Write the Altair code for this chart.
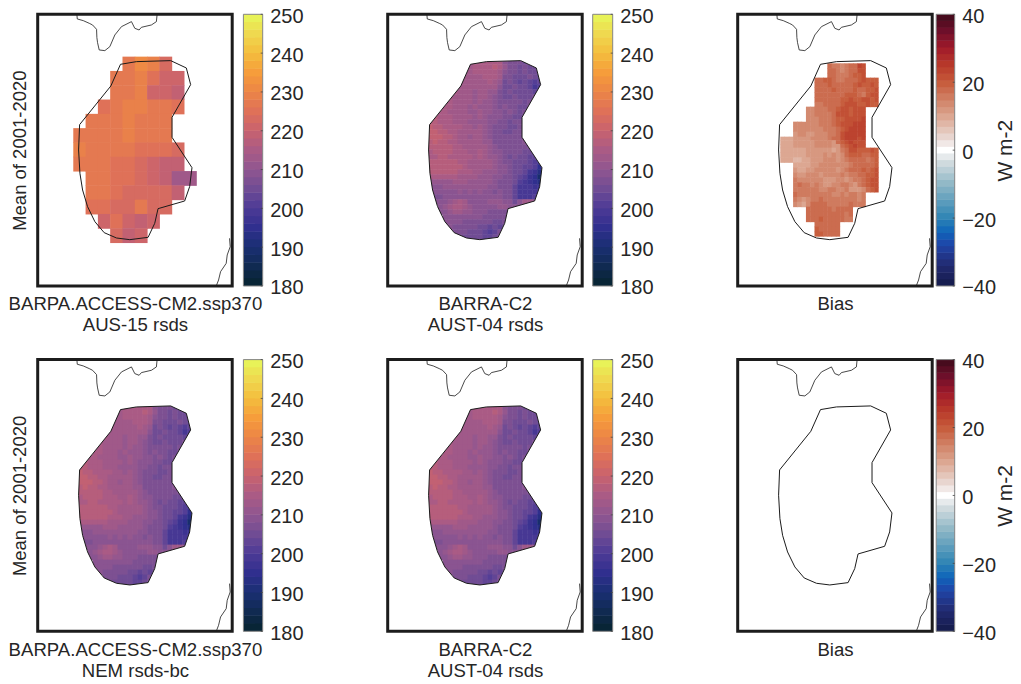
import altair as alt
import numpy as np
import pandas as pd

FONT = "Liberation Sans"
INK = "#262626"

# ---- map geometry, in map units of the panel (0-585 across, 0-815 down) ----
outline_x = [249, 297, 400, 447, 460, 404, 404, 464, 457, 442, 362, 352, 332, 277, 237, 200, 172, 150, 135, 127, 123, 126, 220, 249]
outline_y = [150, 142, 139, 161, 211, 309, 369, 460, 517, 560, 583, 627, 669, 676, 671, 655, 622, 577, 527, 477, 407, 331, 215, 150]
coast_n_x = [118, 119, 137, 155, 165, 177, 178, 180, 185, 202, 217, 232, 252, 282, 292, 305, 312, 342, 357, 359]
coast_n_y = [2, 14, 19, 27, 32, 45, 70, 85, 107, 109, 97, 62, 37, 22, 42, 47, 39, 32, 22, 2]
coast_s_x = [577, 579, 570, 567, 550, 544, 537]
coast_s_y = [672, 697, 722, 747, 772, 797, 815]

# ---- coarse model grid: (first column, values) per row ----
coarse_rows = [
    (4, [227, 230, 229, 222]),
    (3, [227, 227, 229, 224, 221, 220]),
    (3, [227, 227, 228, 220, 221, 218]),
    (2, [225, 227, 229, 228, 226, 226, 224]),
    (1, [226, 227, 227, 229, 227, 226, 226]),
    (0, [227, 226, 226, 226, 228, 226, 226, 226]),
    (0, [228, 226, 226, 226, 226, 225, 224, 224, 223]),
    (0, [227, 226, 226, 224, 224, 222, 220, 219, 219]),
    (1, [226, 226, 224, 224, 223, 220, 219, 213, 213]),
    (1, [226, 226, 224, 223, 222, 222, 222, 218]),
    (1, [225, 224, 223, 222, 226, 222, 222]),
    (2, [221, 224, 221, 219, 220]),
    (3, [223, 218, 220]),
]

# ---- fine reanalysis grid: (first column, values) per row ----
barra_rows = [
    (8, [214, 214, 215, 215, 215, 215, 214, 208, 207, 206, 206, 205]),
    (8, [213, 214, 214, 215, 215, 216, 215, 211, 206, 206, 205, 206, 205, 204]),
    (7, [212, 213, 214, 214, 215, 215, 215, 213, 208, 206, 206, 204, 206, 205, 205, 204]),
    (7, [212, 212, 213, 213, 214, 214, 214, 212, 207, 206, 205, 204, 205, 206, 204, 203]),
    (6, [212, 212, 212, 212, 213, 213, 214, 213, 210, 205, 206, 204, 203, 204, 203, 200, 202]),
    (6, [213, 212, 212, 213, 212, 213, 212, 212, 208, 205, 205, 206, 205, 204, 202, 199, 200]),
    (5, [214, 213, 212, 212, 211, 212, 212, 211, 210, 206, 205, 206, 204, 205, 204, 204, 203, 205]),
    (4, [214, 213, 213, 212, 212, 211, 212, 212, 210, 209, 206, 205, 205, 206, 205, 204, 205, 206]),
    (3, [215, 214, 213, 213, 212, 212, 211, 212, 211, 210, 208, 206, 206, 207, 206, 206, 205, 206, 208]),
    (3, [214, 214, 213, 212, 212, 211, 212, 211, 210, 211, 208, 207, 208, 207, 206, 205, 205, 206]),
    (2, [215, 214, 213, 213, 212, 212, 211, 211, 212, 210, 210, 209, 208, 207, 208, 206, 205, 206]),
    (1, [216, 215, 214, 214, 213, 213, 212, 212, 211, 212, 211, 209, 209, 208, 207, 206, 205, 205, 207]),
    (0, [217, 216, 215, 214, 214, 213, 212, 212, 211, 211, 211, 210, 208, 208, 206, 206, 205, 206, 207]),
    (0, [218, 217, 217, 215, 214, 214, 214, 212, 212, 211, 212, 210, 208, 207, 206, 206, 205, 205, 206]),
    (0, [218, 218, 217, 216, 215, 214, 213, 212, 213, 213, 212, 210, 208, 207, 206, 205, 205, 206, 207]),
    (0, [218, 218, 218, 216, 216, 214, 213, 212, 211, 212, 212, 211, 209, 207, 206, 207, 206, 206, 207, 207]),
    (0, [217, 218, 217, 217, 215, 215, 213, 213, 212, 212, 212, 211, 210, 207, 206, 206, 206, 207, 207, 208]),
    (0, [216, 217, 217, 216, 216, 215, 214, 213, 213, 213, 212, 212, 210, 209, 207, 206, 207, 207, 206, 206, 206]),
    (0, [215, 216, 216, 216, 216, 215, 214, 214, 213, 213, 214, 212, 211, 209, 208, 206, 206, 206, 206, 205, 204, 205]),
    (0, [215, 215, 216, 216, 215, 215, 215, 214, 214, 213, 214, 213, 211, 210, 208, 206, 205, 206, 205, 204, 203, 203]),
    (0, [216, 216, 216, 216, 216, 216, 215, 214, 213, 213, 213, 213, 212, 210, 209, 207, 206, 205, 204, 204, 203, 201, 198]),
    (0, [216, 216, 217, 217, 216, 216, 216, 215, 213, 213, 212, 212, 212, 211, 209, 208, 206, 205, 204, 203, 202, 200, 195, 193]),
    (0, [216, 216, 216, 217, 216, 216, 215, 214, 214, 213, 212, 211, 211, 210, 209, 208, 206, 205, 204, 202, 199, 196, 192, 190]),
    (0, [214, 214, 215, 215, 214, 214, 213, 213, 212, 212, 211, 211, 210, 209, 208, 207, 206, 205, 203, 200, 197, 194, 189, 187]),
    (0, [211, 211, 211, 211, 211, 212, 212, 212, 211, 211, 211, 210, 210, 209, 207, 207, 206, 204, 201, 198, 197, 195, 193, 191]),
    (0, [209, 209, 209, 210, 210, 210, 211, 210, 210, 210, 211, 210, 209, 208, 207, 207, 206, 203, 199, 198, 198, 197, 196]),
    (1, [208, 208, 209, 209, 209, 210, 209, 210, 209, 210, 208, 208, 207, 208, 207, 206, 203, 198, 198, 199, 198, 198]),
    (1, [207, 207, 208, 208, 208, 209, 208, 208, 209, 209, 208, 208, 209, 209, 207, 207, 203, 199, 198, 199, 200]),
    (1, [208, 208, 209, 211, 213, 214, 212, 209, 208, 209, 208, 210, 211, 210, 208, 209, 205, 209, 212, 213, 211]),
    (2, [208, 210, 213, 214, 215, 213, 210, 209, 208, 208, 208, 209, 210, 210, 209, 208, 208, 208, 210, 211]),
    (2, [208, 209, 210, 212, 212, 211, 210, 209, 209, 208, 207, 207, 207, 206, 207]),
    (3, [209, 209, 209, 209, 208, 208, 208, 208, 207, 207, 206, 206, 206]),
    (3, [209, 208, 208, 208, 207, 207, 207, 206, 206, 206, 205, 205, 206]),
    (4, [208, 207, 207, 207, 206, 206, 205, 205, 203, 204, 203, 205]),
    (5, [207, 206, 206, 205, 204, 204, 202, 201, 202, 206]),
    (6, [206, 205, 205, 204, 204, 203, 202, 204, 207]),
    (9, [204, 205, 206]),
]

# ---- bias on the fine grid: (first column, values) per row ----
bias_edges = [190, 233, 277, 320, 365, 410, 443, 487, 532, 576, 620, 665, 710]
bias_rows = [
    (11, [17, 16, 16, 14, 15, 17, 18, 23, 22]),
    (11, [18, 17, 15, 14, 15, 17, 18, 22, 22]),
    (11, [18, 17, 16, 16, 16, 17, 20, 20, 21]),
    (8, [18, 18, 19, 19, 18, 15, 16, 17, 18, 18, 20, 21, 19, 20, 20]),
    (8, [18, 18, 18, 19, 18, 17, 17, 17, 18, 19, 21, 19, 20, 21, 20]),
    (8, [17, 18, 18, 18, 19, 18, 18, 17, 18, 20, 18, 17, 19, 20, 21]),
    (8, [18, 18, 17, 18, 18, 18, 18, 19, 19, 19, 17, 16, 19, 21, 21]),
    (8, [17, 17, 17, 17, 17, 18, 19, 20, 21, 20, 19, 21, 21, 20, 21]),
    (8, [16, 16, 17, 17, 18, 18, 20, 21, 21, 21, 19, 20, 21, 20, 20]),
    (6, [14, 14, 15, 15, 16, 17, 18, 20, 21, 21, 20, 21, 21, 21]),
    (6, [14, 14, 15, 15, 16, 16, 18, 21, 21, 21, 20, 21, 22, 22]),
    (6, [13, 14, 14, 15, 15, 16, 17, 19, 20, 21, 21, 22, 22, 23]),
    (3, [13, 13, 13, 13, 14, 14, 15, 15, 16, 17, 19, 21, 22, 22, 23, 23, 24]),
    (3, [13, 13, 13, 13, 14, 13, 14, 15, 16, 16, 18, 20, 22, 23, 23, 24, 23]),
    (3, [12, 13, 13, 12, 12, 14, 14, 14, 15, 16, 17, 21, 23, 23, 23, 23, 24]),
    (0, [10, 10, 10, 11, 12, 12, 12, 13, 13, 14, 14, 15, 17, 18, 21, 23, 23, 23, 22, 23]),
    (0, [10, 10, 10, 11, 11, 12, 12, 12, 13, 13, 13, 14, 12, 17, 19, 21, 23, 22, 21, 22]),
    (0, [10, 10, 10, 11, 11, 11, 12, 12, 13, 13, 13, 13, 12, 12, 18, 19, 21, 23, 22, 22]),
    (0, [9, 9, 9, 10, 10, 10, 11, 11, 12, 12, 12, 12, 10, 12, 16, 18, 21, 21, 20, 20, 19, 21, 20]),
    (0, [9, 9, 9, 9, 9, 10, 11, 11, 12, 12, 13, 12, 13, 12, 13, 17, 19, 20, 19, 18, 18, 19, 20]),
    (0, [9, 9, 9, 8, 8, 9, 10, 11, 11, 12, 13, 13, 14, 12, 13, 15, 17, 18, 18, 18, 16, 17, 19]),
    (3, [10, 10, 9, 10, 11, 11, 13, 13, 13, 14, 14, 14, 13, 15, 17, 17, 18, 17, 17, 19]),
    (3, [11, 10, 10, 11, 12, 13, 13, 14, 13, 13, 12, 14, 15, 17, 18, 17, 19, 18, 20, 21]),
    (3, [13, 12, 12, 13, 13, 13, 12, 13, 13, 13, 14, 15, 13, 15, 16, 18, 17, 19, 20, 21]),
    (3, [15, 14, 14, 14, 14, 13, 13, 12, 11, 12, 14, 14, 12, 13, 15, 15, 17, 20, 21, 21]),
    (3, [16, 17, 15, 15, 14, 15, 13, 12, 12, 14, 14, 15, 15, 13, 12, 15, 18, 19, 21, 21]),
    (3, [16, 16, 16, 15, 15, 15, 14, 14, 15, 15, 14, 14, 15, 12, 11, 12, 14, 18, 20, 21]),
    (3, [17, 16, 15, 15, 15, 16, 15, 15, 15, 14, 14, 15, 14, 15, 15, 14, 15]),
    (3, [15, 13, 11, 14, 16, 16, 17, 16, 15, 15, 15, 15, 16, 16, 15, 14, 15]),
    (3, [14, 12, 10, 14, 17, 18, 18, 17, 16, 16, 16, 15, 16, 17, 16, 15, 16]),
    (6, [17, 17, 17, 18, 18, 17, 16, 17, 17, 17, 18]),
    (6, [17, 18, 18, 17, 18, 17, 17, 18, 17, 16, 17]),
    (6, [17, 18, 18, 19, 18, 18, 18, 18, 17, 16, 16]),
    (8, [18, 18, 18, 17, 17, 18]),
    (8, [19, 18, 17, 18, 17, 17]),
    (8, [19, 19, 18, 18, 18, 17]),
]

# ---- colours ----
rad_stop_v = [180, 190, 195, 200, 205, 210, 215, 220, 225, 230, 235, 240, 245, 250]
rad_stop_c = ["#06242f", "#1a2f73", "#302f8e", "#4d3a96", "#704c94", "#905690", "#aa5b85", "#c8626e",
              "#df7158", "#ec8546", "#f69d3b", "#f4bd3e", "#efd94f", "#e6f85a"]
bias_stop_v = [-40, -34, -28, -24, -20, -10, -3, 0, 3, 10, 20, 25, 30, 35, 40]
bias_stop_c = ["#141a4a", "#222a70", "#1f44a8", "#0f66ba", "#2f84b4", "#8fb8c6", "#d9dfe2", "#ffffff",
               "#eadcd8", "#dba58f", "#c65a3a", "#b8392a", "#a01a2a", "#6e0f2a", "#3d0a1a"]


def hexrgb(c):
    return [int(c[i:i + 2], 16) for i in (1, 3, 5)]


def band_colours(stop_v, stop_c, n):
    lo, hi = stop_v[0], stop_v[-1]
    mids = lo + (np.arange(n) + 0.5) * (hi - lo) / n
    rgb = np.array([hexrgb(c) for c in stop_c], float)
    out = []
    for m in mids:
        out.append("#%02x%02x%02x" % tuple(int(round(np.interp(m, stop_v, rgb[:, k]))) for k in range(3)))
    return out


rad_scale = alt.Scale(type="quantize", domain=[180, 250], range=band_colours(rad_stop_v, rad_stop_c, 35))
bias_scale = alt.Scale(type="quantize", domain=[-40, 40], range=band_colours(bias_stop_v, bias_stop_c, 41))

OVERLAP = 1.5  # map units each cell runs under its neighbour, so no seams show

# ---- tables ----
def coarse_table():
    rec = []
    for j, (c0, vals) in enumerate(coarse_rows):
        for i, v in enumerate(vals):
            x = 107 + 37 * (c0 + i)
            y = 127 + 42.9 * j
            rec.append(dict(x=x, x2=x + 37 + OVERLAP, y=y, y2=y + 42.9 + OVERLAP, v=v))
    return pd.DataFrame(rec)


def fine_table():
    rec = []
    for j, (c0, vals) in enumerate(barra_rows):
        for i, v in enumerate(vals):
            x = 120 + 15 * (c0 + i)
            y = 135 + 15 * j
            rec.append(dict(x=x, x2=x + 15 + OVERLAP, y=y, y2=y + 15 + OVERLAP, v=v))
    return pd.DataFrame(rec)


def bias_table():
    rec = []
    for j, (c0, vals) in enumerate(bias_rows):
        cr, sub = j // 3, j % 3
        top, bot = bias_edges[cr] - 43, bias_edges[cr + 1] - 43
        h = (bot - top) / 3
        last = sub == 2
        for i, v in enumerate(vals):
            x = 128 + 12.87 * (c0 + i)
            end = x + 12.87 + (OVERLAP if i < len(vals) - 1 else 0)
            rec.append(dict(x=x, x2=end, y=top + sub * h, y2=top + (sub + 1) * h + (0 if last and cr == 11 else OVERLAP), v=v))
    return pd.DataFrame(rec)


def path_df(xs, ys):
    return pd.DataFrame({"x": xs, "y": ys, "i": range(len(xs))})


mask_outer_x = [100, 490, 490, 100, 100]
mask_outer_y = [120, 120, 700, 700, 120]
mask_df = path_df(mask_outer_x + outline_x[::-1] + [100], mask_outer_y + outline_y[::-1] + [120])

MAP_W, MAP_H = 194.5, 271.7
X_SC = alt.Scale(domain=[0, 585], nice=False, zero=False)
Y_SC = alt.Scale(domain=[815, 0], nice=False, zero=False)
FRAME = alt.ViewBackground(stroke="#1c1c1c", strokeWidth=3)


def map_panel(table, scale, title, ytitle=None):
    x_axis = alt.Axis(title=title, labels=False, ticks=False, domain=False, grid=False, titlePadding=9,
                      titleFont=FONT, titleFontSize=18.6, titleColor=INK, titleFontWeight="normal",
                      titleLineHeight=21)
    y_axis = alt.Axis(title=ytitle or "", labels=False, ticks=False, domain=False, grid=False, titlePadding=8,
                      titleFont=FONT, titleFontSize=18.5, titleColor=INK, titleFontWeight="normal")
    X = alt.X("x:Q", scale=X_SC, axis=x_axis)
    Y = alt.Y("y:Q", scale=Y_SC, axis=y_axis)
    layers = []
    if table is not None:
        layers.append(
            alt.Chart(table).mark_rect().encode(
                x=X, x2="x2:Q", y=Y, y2="y2:Q",
                color=alt.Color("v:Q", scale=scale, legend=None),
            ))
    if table is FINE:
        layers.append(alt.Chart(mask_df).mark_line(fill="white", strokeWidth=0).encode(x=X, y=Y, order="i:Q"))
    for xs, ys, w in [(outline_x, outline_y, 1.0), (coast_n_x, coast_n_y, 0.8), (coast_s_x, coast_s_y, 0.8)]:
        layers.append(alt.Chart(path_df(xs, ys)).mark_line(color="#1a1a1a", strokeWidth=w).encode(
            x=X, y=Y, order="i:Q"))
    return alt.layer(*layers).properties(width=MAP_W, height=MAP_H, view=FRAME)


def bar_panel(lo, hi, n, ticks, scale, gap, total, title=""):
    edges = np.linspace(lo, hi, n + 1)
    overlap = (hi - lo) / 271.7 * 0.5
    bands = pd.DataFrame({"lo": edges[:-1], "hi": np.minimum(edges[1:] + overlap, hi), "mid": (edges[:-1] + edges[1:]) / 2})
    axis = alt.Axis(orient="right", values=ticks, format="d", ticks=False, tickSize=0, domain=False, grid=False,
                    labelFont=FONT, labelFontSize=20, labelColor=INK, labelPadding=7, labelOffset=2, title=title,
                    titleFont=FONT, titleFontSize=21, titleColor=INK, titleFontWeight="normal",
                    titleAngle=270, titlePadding=19.5)
    y_sc = alt.Scale(domain=[lo, hi], nice=False, zero=False)
    rects = alt.Chart(bands).mark_rect().encode(
        x=alt.value(gap), x2=alt.value(total),
        y=alt.Y("lo:Q", scale=y_sc, axis=axis), y2="hi:Q",
        color=alt.Color("mid:Q", scale=scale, legend=None))
    box = alt.Chart(pd.DataFrame({"a": [lo], "b": [hi]})).mark_rect(fillOpacity=0, stroke="#858585", strokeWidth=1).encode(
        x=alt.value(gap), x2=alt.value(total), y=alt.Y("a:Q", scale=y_sc, axis=axis), y2="b:Q")
    marks = alt.Chart(pd.DataFrame({"t": ticks})).mark_rule(color="#444444", strokeWidth=0.8).encode(
        x=alt.value(total - 2), x2=alt.value(total), y=alt.Y("t:Q", scale=y_sc, axis=axis))
    return alt.layer(rects, box, marks).properties(width=total, height=MAP_H)


def spacer():
    return alt.Chart(pd.DataFrame({"a": [0]})).mark_rule(opacity=0).encode(x=alt.value(0)).properties(width=124.5, height=MAP_H)


COARSE, FINE, BIAS = coarse_table(), fine_table(), bias_table()
rad_ticks = [180, 190, 200, 210, 220, 230, 240, 250]
bias_ticks = [-40, -20, 0, 20, 40]
YT = "Mean of 2001-2020"


def rad_bar(gap):
    return bar_panel(180, 250, 35, rad_ticks, rad_scale, gap, 30)


def bias_bar():
    return bar_panel(-40, 40, 41, bias_ticks, bias_scale, 3.5, 22, "W m-2")


panels = [
    map_panel(COARSE, rad_scale, ["BARPA.ACCESS-CM2.ssp370", "AUS-15 rsds"], YT), rad_bar(10.7), spacer(),
    map_panel(FINE, rad_scale, ["BARRA-C2", "AUST-04 rsds"]), rad_bar(10), spacer(),
    map_panel(BIAS, bias_scale, "Bias"), bias_bar(),
    map_panel(FINE, rad_scale, ["BARPA.ACCESS-CM2.ssp370", "NEM rsds-bc"], YT), rad_bar(10.7), spacer(),
    map_panel(FINE, rad_scale, ["BARRA-C2", "AUST-04 rsds"]), rad_bar(10), spacer(),
    map_panel(None, bias_scale, "Bias"), bias_bar(),
]

chart = alt.concat(*panels, columns=8, spacing={"row": 73.3, "column": 0}, bounds="flush", align="each",
                   params=[alt.VariableParameter(name="width", value=975.3),
                           alt.VariableParameter(name="height", value=669)]).resolve_scale(
    color="independent", x="independent", y="independent"
).properties(
    autosize=alt.AutoSizeParams(type="none", contains="content"),
    padding={"left": 29.7, "top": 6.3, "right": 0, "bottom": 0},
).configure(font=FONT, view=alt.ViewConfig(stroke="transparent"))

chart.save("out.html", embed_options={"renderer": "svg", "actions": False})
